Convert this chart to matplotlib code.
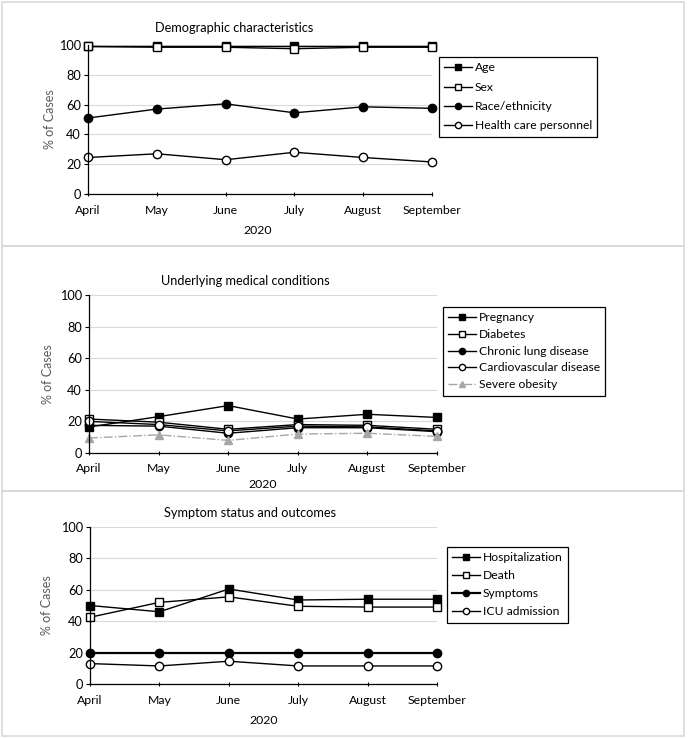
import matplotlib
matplotlib.use("Agg")
import matplotlib.pyplot as plt
from matplotlib.patches import Rectangle

plt.rcParams["font.family"] = ["Lato", "DejaVu Sans"]

months = ["April", "May", "June", "July", "August", "September"]

# Demographic characteristics
age = [99.5, 99.5, 99.5, 99.5, 99.5, 99.5]
sex = [99, 98.5, 98.5, 97.5, 98.5, 98.5]
race = [51, 57, 60.5, 54.5, 58.5, 57.5]
hcp = [24.5, 27, 23, 28, 24.5, 21.5]

# Underlying medical conditions
pregnancy = [16.5, 23, 30, 21.5, 24.5, 22.5]
diabetes = [21.5, 19.5, 15, 18, 17.5, 15]
lung = [17.5, 17, 12.5, 16, 16, 13.5]
cardio = [20, 18, 14, 17, 16.5, 14]
obesity = [9.5, 11.5, 8, 12, 12.5, 10.5]

# Symptom status and outcomes
hosp = [50, 46, 60.5, 53.5, 54, 54]
death = [42.5, 52, 55.5, 49.5, 49, 49]
symptoms = [19.5, 19.5, 19.5, 19.5, 19.5, 19.5]
icu = [13, 11.5, 14.5, 11.5, 11.5, 11.5]

W, H = 689, 739
fig = plt.figure(figsize=(W / 100, H / 100), dpi=100)

# light grey frames around each chart
for y0, y1 in [(2, 246), (246, 491), (491, 736)]:
    fig.patches.append(Rectangle((2 / W, 1 - y1 / H), (684 - 2) / W, (y1 - y0) / H,
                                 transform=fig.transFigure, fill=False,
                                 edgecolor="#d9d9d9", lw=1.2))

styles = {
    "fsq": dict(marker="s", mfc="black", mec="black"),
    "osq": dict(marker="s", mfc="white", mec="black"),
    "fci": dict(marker="o", mfc="black", mec="black"),
    "oci": dict(marker="o", mfc="white", mec="black"),
}

panels = [
    dict(title="Demographic characteristics", box=(88, 432, 45, 194),
         series=[("Age", age, "fsq"), ("Sex", sex, "osq"),
                 ("Race/ethnicity", race, "fci"), ("Health care personnel", hcp, "oci")],
         title_xy=(234, 28), tick_y=211, year_xy=(258, 231), ylab_x=50,
         leg=(439, 57), leg_space=0.69),
    dict(title="Underlying medical conditions", box=(89, 437, 295, 453),
         series=[("Pregnancy", pregnancy, "fsq"), ("Diabetes", diabetes, "osq"),
                 ("Chronic lung disease", lung, "fci"),
                 ("Cardiovascular disease", cardio, "oci"),
                 ("Severe obesity", obesity, "tri")],
         title_xy=(245, 281), tick_y=469, year_xy=(263, 484), ylab_x=48,
         leg=(443, 307), leg_space=0.47),
    dict(title="Symptom status and outcomes", box=(90, 437, 527, 684),
         series=[("Hospitalization", hosp, "fsq"), ("Death", death, "osq"),
                 ("Symptoms", symptoms, "fci"), ("ICU admission", icu, "oci")],
         title_xy=(250, 513), tick_y=701, year_xy=(264, 720), ylab_x=47,
         leg=(447, 547), leg_space=0.57),
]

x = list(range(len(months)))
for p in panels:
    x0, x1, y0, y1 = p["box"]
    ax = fig.add_axes([x0 / W, 1 - y1 / H, (x1 - x0) / W, (y1 - y0) / H])
    for name, vals, st in p["series"]:
        if st == "tri":
            ax.plot(x, vals, color="#a6a6a6", ls="-.", lw=1, marker="^", ms=5.5,
                    mfc="#a6a6a6", mec="#a6a6a6", label=name)
        else:
            lw = 1.6 if name == "Symptoms" else 1
            ax.plot(x, vals, color="black", lw=lw, ms=6, mew=1, label=name,
                    **styles[st])
    ax.set_xlim(0, 5)
    ax.set_ylim(0, 100)
    ax.set_yticks([0, 20, 40, 60, 80, 100])
    ax.set_xticks(x)
    ax.set_xticklabels([])
    ax.grid(axis="y", color="#d9d9d9", lw=0.8)
    ax.set_axisbelow(True)
    for s in ["top", "right"]:
        ax.spines[s].set_visible(False)
    ax.spines["left"].set_linewidth(0.9)
    ax.spines["bottom"].set_linewidth(0.9)
    ax.tick_params(axis="y", length=3, width=0.8, labelsize=9.2, pad=2)
    ax.tick_params(axis="x", length=3, width=0.8, direction="inout")
    for ln in ax.lines:
        ln.set_clip_on(False)
    for i, m in enumerate(months):
        fig.text((x0 + (x1 - x0) * i / 5) / W, 1 - p["tick_y"] / H, m,
                 ha="center", va="center", fontsize=8.8)
    yx, yy = p["year_xy"]
    fig.text(yx / W, 1 - yy / H, "2020", ha="center", va="center", fontsize=8.8)
    tx, ty = p["title_xy"]
    fig.text(tx / W, 1 - ty / H, p["title"], ha="center", va="center", fontsize=9.2)
    fig.text(p["ylab_x"] / W, 1 - (y0 + y1) / 2 / H, "% of Cases", rotation=90,
             ha="center", va="center", fontsize=9, color="#595959")
    lx, ly = p["leg"]
    leg = ax.legend(loc="upper left", bbox_to_anchor=(lx / W, 1 - ly / H),
                    bbox_transform=fig.transFigure, fontsize=8.7, frameon=True,
                    fancybox=False, edgecolor="black", framealpha=1,
                    handlelength=2.3, handletextpad=0.2, borderpad=0.45,
                    labelspacing=p["leg_space"], borderaxespad=0, markerscale=0.75)
    leg.get_frame().set_linewidth(0.9)

plt.savefig("out.png", dpi=100)
